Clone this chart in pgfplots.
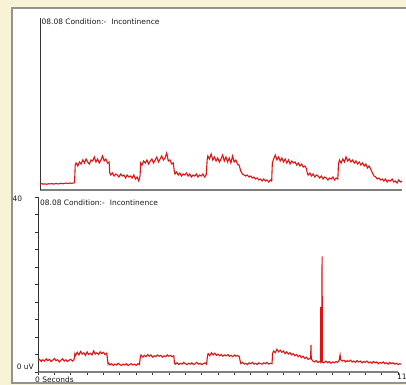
\documentclass[border=0pt]{standalone}
\usepackage{pgfplots}
\pgfplotsset{compat=1.18}
\usepackage{fontspec}
\setmainfont{DejaVu Sans}
\definecolor{bgc}{RGB}{247,243,212}
\definecolor{trace}{RGB}{222,20,20}
\definecolor{axgray}{RGB}{128,128,128}
\begin{document}
\begin{tikzpicture}[x=1bp,y=1bp]
\useasboundingbox (0,0) rectangle (406,385);
\fill[bgc] (0,0) rectangle (406,385);
\draw[axgray!85, line width=1.5bp, fill=white] (12,2) rectangle (412,377);

\begin{axis}[
  at={(40bp,195bp)}, anchor=south west,
  scale only axis, width=362bp, height=172bp,
  xmin=0, xmax=11, ymin=0, ymax=172,
  axis x line*=bottom, axis y line*=left,
  axis line style={-},
  x axis line style={axgray, line width=2bp, -},
  y axis line style={black!80, line width=0.7bp, -},
  xtick=\empty, ytick=\empty,
  clip=false,
]
\addplot[trace, line width=1.1bp] coordinates {
(0.00,6.0)(0.05,6.4)(0.10,5.8)(0.15,6.2)(0.20,5.6)(0.25,6.3)(0.30,6.0)(0.35,6.6)(0.40,5.9)(0.45,6.2)(0.50,6.5)(0.55,6.0)(0.60,6.4)(0.65,6.8)(0.70,6.2)(0.75,6.6)(0.80,6.9)(0.85,6.4)(0.90,7.0)(0.95,6.6)(1.00,6.9)(1.05,7.2)
(1.07,25)(1.10,27)(1.15,24)(1.20,28)(1.25,26)(1.30,30)(1.35,27)(1.40,31)(1.45,28)(1.50,26)(1.55,30)(1.60,29)(1.65,33)(1.70,28)(1.75,31)(1.80,27)(1.85,30)(1.90,34)(1.95,29)(2.00,31)(2.05,27)(2.10,28)
(2.12,17)(2.15,15)(2.20,17)(2.25,14)(2.30,16)(2.35,15)(2.40,13)(2.45,16)(2.50,14)(2.55,15)(2.60,12)(2.65,15)(2.70,13)(2.75,14)(2.80,12)(2.85,15)(2.90,11)(2.95,13)(3.00,9)(3.04,14)
(3.06,27)(3.10,25)(3.15,29)(3.20,27)(3.25,30)(3.30,26)(3.35,29)(3.40,31)(3.45,27)(3.50,30)(3.55,33)(3.60,28)(3.65,31)(3.70,34)(3.75,30)(3.80,32)(3.85,37)(3.90,29)(3.95,30)(4.00,26)(4.05,27)
(4.08,19)(4.10,16)(4.15,18)(4.20,15)(4.25,17)(4.30,14)(4.35,16)(4.40,15)(4.45,17)(4.50,14)(4.55,16)(4.60,13)(4.65,15)(4.70,14)(4.75,16)(4.80,13)(4.85,15)(4.90,14)(4.95,16)(5.00,13)(5.05,15)
(5.08,30)(5.10,34)(5.15,31)(5.20,36)(5.25,30)(5.30,33)(5.35,29)(5.40,32)(5.45,28)(5.50,31)(5.55,35)(5.60,29)(5.65,33)(5.70,28)(5.75,32)(5.80,27)(5.85,34)(5.90,28)(5.95,30)(6.00,26)(6.05,25)
(6.10,19)(6.15,16)(6.20,15)(6.25,14)(6.30,15)(6.35,13)(6.40,14)(6.45,12)(6.50,13)(6.55,11)(6.60,12)(6.65,10)(6.70,11)(6.75,9)(6.80,11)(6.85,9)(6.90,10)(6.95,8)(7.00,10)(7.04,9)
(7.06,27)(7.10,31)(7.15,35)(7.20,30)(7.25,33)(7.30,29)(7.35,32)(7.40,28)(7.45,31)(7.50,27)(7.55,30)(7.60,26)(7.65,29)(7.70,27)(7.75,28)(7.80,25)(7.85,27)(7.90,24)(7.95,26)(8.00,23)(8.05,24)(8.10,21)
(8.12,17)(8.15,15)(8.20,17)(8.25,14)(8.30,16)(8.35,13)(8.40,15)(8.45,14)(8.50,12)(8.55,14)(8.60,11)(8.65,13)(8.70,12)(8.75,10)(8.80,12)(8.85,11)(8.90,13)(8.95,10)(9.00,12)(9.05,11)
(9.07,26)(9.10,30)(9.15,27)(9.20,31)(9.25,28)(9.30,33)(9.35,29)(9.40,31)(9.45,28)(9.50,30)(9.55,27)(9.60,29)(9.65,26)(9.70,28)(9.75,25)(9.80,27)(9.85,24)(9.90,26)(9.95,22)(10.00,24)(10.05,21)
(10.10,17)(10.15,14)(10.20,13)(10.25,11)(10.30,12)(10.35,10)(10.40,11)(10.45,9)(10.50,11)(10.55,8)(10.60,10)(10.65,9)(10.70,11)(10.75,8)(10.80,9)(10.85,7)(10.90,10)(10.95,8)(11.00,9)
};
\end{axis}

\begin{axis}[
  at={(38bp,13bp)}, anchor=south west,
  scale only axis, width=360bp, height=175bp,
  xmin=0, xmax=11, ymin=0, ymax=40,
  axis x line*=bottom, axis y line*=left,
  axis line style={-},
  x axis line style={axgray, line width=2bp, -},
  y axis line style={black!80, line width=0.7bp, -},
  xtick={0,0.5,1,1.5,2,2.5,3,3.5,4,4.5,5,5.5,6,6.5,7,7.5,8,8.5,9,9.5,10,10.5,11},
  ytick={0,4,8,12,16,20,24,28,32,36,40},
  xticklabels={}, yticklabels={},
  tick align=outside, major tick length=3bp,
  tick style={black!80, line width=0.7bp},
  clip=false,
]
\addplot[trace, line width=1.1bp] coordinates {
(0.00,2.6)(0.05,2.9)(0.10,2.4)(0.15,2.8)(0.20,2.5)(0.25,3.0)(0.30,2.6)(0.35,2.9)(0.40,2.4)(0.45,2.7)(0.50,3.1)(0.55,2.6)(0.60,2.8)(0.65,2.3)(0.70,2.7)(0.75,3.0)(0.80,2.5)(0.85,2.8)(0.90,2.4)(0.95,2.7)(1.00,2.9)(1.05,2.5)(1.10,2.8)
(1.13,4.2)(1.15,3.8)(1.20,4.5)(1.25,3.9)(1.30,4.7)(1.35,4.1)(1.40,4.4)(1.45,3.8)(1.50,4.6)(1.55,4.0)(1.60,4.3)(1.65,3.9)(1.70,4.8)(1.75,4.1)(1.80,4.4)(1.85,4.0)(1.90,4.6)(1.95,4.2)(2.00,4.5)(2.05,4.0)(2.10,4.3)
(2.14,1.9)(2.15,2.1)(2.20,1.6)(2.25,1.9)(2.30,1.5)(2.35,1.8)(2.40,1.6)(2.45,2.0)(2.50,1.7)(2.55,1.5)(2.60,1.8)(2.65,1.6)(2.70,1.9)(2.75,1.5)(2.80,1.7)(2.85,1.9)(2.90,1.6)(2.95,1.8)(3.00,1.5)(3.05,1.9)(3.10,1.7)
(3.13,3.6)(3.15,3.9)(3.20,3.4)(3.25,3.8)(3.30,3.5)(3.35,4.0)(3.40,3.6)(3.45,3.9)(3.50,3.4)(3.55,3.7)(3.60,3.5)(3.65,3.9)(3.70,3.6)(3.75,3.8)(3.80,3.4)(3.85,3.7)(3.90,3.5)(3.95,3.9)(4.00,3.6)(4.05,3.8)(4.10,3.5)(4.15,3.7)
(4.17,2.0)(4.20,1.8)(4.25,2.1)(4.30,1.7)(4.35,2.0)(4.40,1.8)(4.45,2.2)(4.50,1.9)(4.55,1.7)(4.60,2.0)(4.65,1.8)(4.70,2.1)(4.75,1.7)(4.80,1.9)(4.85,2.2)(4.90,1.8)(4.95,2.0)(5.00,1.7)(5.05,1.9)(5.10,2.1)(5.15,1.8)
(5.18,3.8)(5.20,4.2)(5.25,3.7)(5.30,4.4)(5.35,3.9)(5.40,4.3)(5.45,3.8)(5.50,4.1)(5.55,3.7)(5.60,4.0)(5.65,3.6)(5.70,3.9)(5.75,3.7)(5.80,4.0)(5.85,3.6)(5.90,3.8)(5.95,3.5)(6.00,3.9)(6.05,3.6)(6.10,3.8)(6.15,3.5)
(6.19,2.1)(6.20,1.9)(6.25,2.2)(6.30,1.8)(6.35,2.0)(6.40,1.7)(6.45,2.1)(6.50,1.9)(6.55,2.2)(6.60,1.8)(6.65,2.0)(6.70,1.7)(6.75,2.1)(6.80,1.9)(6.85,1.8)(6.90,2.1)(6.95,1.9)(7.00,2.2)(7.05,1.8)(7.10,2.0)(7.15,1.9)
(7.17,4.3)(7.20,4.8)(7.25,4.4)(7.30,5.2)(7.35,4.6)(7.40,5.0)(7.45,4.5)(7.50,4.8)(7.55,4.2)(7.60,4.6)(7.65,4.1)(7.70,4.4)(7.75,3.9)(7.80,4.2)(7.85,3.7)(7.90,4.0)(7.95,3.5)(8.00,3.8)(8.05,3.3)(8.10,3.6)(8.15,3.1)(8.20,3.4)(8.25,2.9)(8.30,3.1)
(8.33,3.0)(8.34,6.2)(8.35,3.0)(8.40,2.5)(8.45,2.3)(8.50,2.6)(8.55,2.2)(8.60,2.4)(8.63,2.3)(8.64,14.9)(8.65,2.2)(8.67,2.4)(8.68,26.4)(8.69,2.3)(8.72,2.1)
(8.75,2.2)(8.80,2.5)(8.85,2.1)(8.90,2.4)(8.95,2.0)(9.00,2.3)(9.05,2.1)(9.10,2.4)(9.15,2.2)(9.20,2.6)(9.23,3.9)(9.25,2.8)(9.30,2.5)(9.35,2.7)(9.40,2.3)(9.45,2.6)(9.50,2.4)(9.55,2.7)(9.60,2.3)(9.65,2.5)(9.70,2.2)(9.75,2.6)(9.80,2.3)(9.85,2.5)(9.90,2.1)(9.95,2.4)
(10.00,2.2)(10.05,2.5)(10.10,2.1)(10.15,2.3)(10.20,2.0)(10.25,2.4)(10.30,2.1)(10.35,2.3)(10.40,1.9)(10.45,2.2)(10.50,2.0)(10.55,2.3)(10.60,1.9)(10.65,2.1)(10.70,1.8)(10.75,2.2)(10.80,1.9)(10.85,2.1)(10.90,1.8)(10.95,2.0)(11.00,1.7)(11.05,1.9)(11.10,1.8)
};
\end{axis}

\begin{scope}[font=\fontsize{7.5}{8}\selectfont, text=black!90, inner sep=0pt]
\node[anchor=west] at (41.5,363) {08.08 Condition:-\hspace{5bp}Incontinence};
\node[anchor=west] at (40,182) {08.08 Condition:-\hspace{5bp}Incontinence};
\node at (17.5,186) {40};
\node[anchor=east] at (34,18) {0 uV};
\node[anchor=west] at (35,5.5) {0 Seconds};
\node[anchor=west] at (397,8) {11};
\end{scope}
\end{tikzpicture}
\end{document}
